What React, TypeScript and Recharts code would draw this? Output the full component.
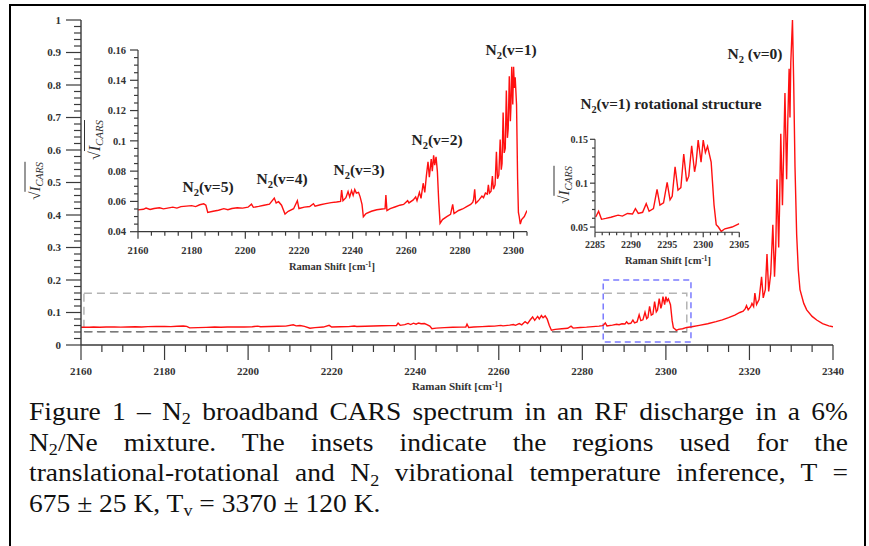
import React from "react";
import { Line, LineChart, ReferenceArea, ReferenceLine, XAxis, YAxis } from "recharts";

// spectrum, split in the three regions the figure talks about
const wideShift = [
  2160, 2162, 2163, 2164.5, 2166, 2168, 2169.5, 2171, 2173, 2174.5, 2176, 2178, 2180, 2181.5, 2183, 2184.5,
  2185.3, 2186, 2188, 2190, 2192, 2193.5, 2195, 2197, 2199, 2201, 2202.3, 2203, 2205, 2207, 2209, 2210.8,
  2211.5, 2212.4, 2213.5, 2214.8, 2216, 2218, 2219.4, 2220, 2222, 2224, 2225.4, 2226, 2228, 2230, 2232, 2234,
  2235.5, 2235.9, 2236.4, 2237.5, 2238.3, 2238.9, 2239.6, 2240.2, 2240.8, 2241.4, 2242.2, 2242.8, 2243.5, 2244,
  2245, 2247, 2249, 2251, 2252.1, 2252.4, 2252.8, 2254, 2256, 2257.6, 2259, 2260.5, 2261, 2262.6, 2263.5, 2264,
  2264.9, 2265.5, 2266.3, 2266.9, 2267.5, 2268.1, 2268.6, 2269.3, 2269.7, 2270.2, 2270.6, 2271.1, 2271.6, 2272.1,
  2272.6, 2273.5, 2275.1, 2276.5, 2277.3, 2277.8, 2279.5, 2281, 2282.5, 2284, 2284.8,
];
const wideSignal = [
  0.0544, 0.0548, 0.0556, 0.0547, 0.0553, 0.0558, 0.0551, 0.0556, 0.0562, 0.0556, 0.0566, 0.0569, 0.0572, 0.0566, 0.0578, 0.0584,
  0.0575, 0.0527, 0.0535, 0.0542, 0.0552, 0.0545, 0.0553, 0.0558, 0.0556, 0.0562, 0.0582, 0.0561, 0.0567, 0.0575, 0.0582, 0.0622,
  0.059, 0.0598, 0.0575, 0.0517, 0.0535, 0.0552, 0.0605, 0.0553, 0.0562, 0.0566, 0.0585, 0.0568, 0.0578, 0.0585, 0.0592, 0.0596,
  0.06, 0.0675, 0.0605, 0.0625, 0.0665, 0.063, 0.0672, 0.064, 0.0678, 0.0655, 0.066, 0.063, 0.058, 0.0499,
  0.052, 0.0535, 0.0545, 0.055, 0.0552, 0.0642, 0.054, 0.0553, 0.0565, 0.0575, 0.058, 0.0605, 0.059, 0.061, 0.063, 0.0605,
  0.066, 0.062, 0.072, 0.066, 0.077, 0.0862, 0.076, 0.088, 0.08, 0.0905, 0.084, 0.0895, 0.0795, 0.06,
  0.0455, 0.048, 0.05, 0.0515, 0.058, 0.052, 0.054, 0.055, 0.0565, 0.058, 0.0595,
];

const rotShift = [
  2285.1, 2285.5, 2285.9, 2286.5, 2287.2, 2288.2, 2288.8, 2289.5, 2290.2, 2290.6, 2291, 2291.6, 2292.1, 2292.5,
  2293.1, 2293.6, 2294, 2294.5, 2295, 2295.4, 2295.7, 2296.1, 2296.5, 2296.9, 2297.3, 2297.7, 2298, 2298.4,
  2298.8, 2299, 2299.3, 2299.7, 2300, 2300.3, 2300.6, 2301.1, 2301.5, 2301.8, 2302.1, 2302.5, 2303, 2304, 2305,
];
const rotSignal = [
  0.0614, 0.068, 0.0588, 0.0598, 0.0612, 0.0636, 0.0625, 0.0655, 0.0648, 0.071, 0.0655, 0.0668, 0.0767, 0.068,
  0.071, 0.0928, 0.075, 0.0775, 0.1008, 0.081, 0.085, 0.1187, 0.092, 0.095, 0.1332, 0.102, 0.108, 0.1427,
  0.113, 0.122, 0.149, 0.124, 0.149, 0.135, 0.142, 0.124, 0.075, 0.0527, 0.05, 0.045, 0.048, 0.05, 0.054,
];

const peakShift = [
  2306.2, 2308, 2310, 2312, 2313.5, 2315, 2316.5, 2317.7, 2318.5, 2319, 2319.3, 2319.7, 2320.3, 2320.6, 2321,
  2321.3, 2321.7, 2322.3, 2322.9, 2323.3, 2323.8, 2324.2, 2324.6, 2325.1, 2325.6, 2326, 2326.3, 2326.6, 2327,
  2327.2, 2327.5, 2327.9, 2328.2, 2328.5, 2328.9, 2329.2, 2329.5, 2329.7, 2329.9, 2330.3, 2330.6, 2330.9,
  2331.3, 2331.7, 2332.1, 2333, 2333.7, 2335, 2336.1, 2337.5, 2339, 2340,
];
const peakSignal = [
  0.056, 0.0605, 0.0655, 0.072, 0.0775, 0.0845, 0.092, 0.1, 0.104, 0.112, 0.121, 0.108, 0.118, 0.128, 0.118,
  0.16, 0.125, 0.14, 0.21, 0.145, 0.17, 0.28, 0.165, 0.22, 0.37, 0.21, 0.3, 0.51, 0.3,
  0.42, 0.65, 0.43, 0.6, 0.775, 0.51, 0.7, 0.85, 0.7, 0.87, 1.0, 0.8, 0.55,
  0.34, 0.23, 0.17, 0.128, 0.108, 0.088, 0.077, 0.066, 0.059, 0.056,
];

const mainXLabels = [2160, 2180, 2200, 2220, 2240, 2260, 2280, 2300, 2320, 2340];
const mainYLabels = [0, 0.1, 0.2, 0.3, 0.4, 0.5, 0.6, 0.7, 0.8, 0.9, 1];
const zoomXLabels = [2160, 2180, 2200, 2220, 2240, 2260, 2280, 2300];
const zoomYLabels = [0.04, 0.06, 0.08, 0.1, 0.12, 0.14, 0.16];
const rotXLabels = [2285, 2290, 2295, 2300, 2305];
const rotYLabels = [0.05, 0.1, 0.15];

const rows = (xs: number[], ys: number[]) => xs.map((x, i) => ({ x, y: ys[i] }));
const wideRows = rows(wideShift, wideSignal);
const rotRows = rows(rotShift, rotSignal);
const peakRows = rows(peakShift, peakSignal);
const mainData = [...wideRows, ...rotRows, ...peakRows];
const zoomData = [...wideRows, ...rotRows];

// minor tick positions, not data
const steps = (from: number, to: number, step: number) => {
  const out: number[] = [];
  const n = Math.round((to - from) / step);
  for (let i = 0; i <= n; i++) out.push(Math.round((from + i * step) * 1e6) / 1e6);
  return out;
};

const W = 869;
const H = 546;
const SERIF = "'Liberation Serif', 'Times New Roman', serif";
const RED = "#ff1010";
const AXIS = "#3a3a3a";

type TickCfg = {
  side: "left" | "bottom";
  labels: number[];
  major: number;
  minor: number;
  offset: number;
  fontSize: number;
};

const makeTick = (cfg: TickCfg) => (props: any) => {
  const { x, y, payload } = props;
  const v = payload.value as number;
  const isMajor = cfg.labels.some((m) => Math.abs(m - v) < 1e-7);
  const len = isMajor ? cfg.major : cfg.minor;
  const txt = String(+v.toFixed(3));
  const textStyle = { fontFamily: SERIF, fontWeight: 700, fontSize: cfg.fontSize };
  if (cfg.side === "bottom") {
    return (
      <g>
        <line x1={x} y1={y} x2={x} y2={y + len} stroke={AXIS} strokeWidth={1.2} />
        {isMajor && (
          <text x={x} y={y + cfg.offset} dy="0.35em" textAnchor="middle" fill="#333" style={textStyle}>
            {txt}
          </text>
        )}
      </g>
    );
  }
  return (
    <g>
      <line x1={x - len} y1={y} x2={x} y2={y} stroke={AXIS} strokeWidth={1.2} />
      {isMajor && (
        <text x={x - cfg.offset} y={y} dy="0.35em" textAnchor="end" fill="#333" style={textStyle}>
          {txt}
        </text>
      )}
    </g>
  );
};

// plot boxes in page pixels
type Box = { left: number; right: number; top: number; bottom: number };
const marginFor = (b: Box) => ({ left: b.left - 40, right: W - b.right, top: b.top, bottom: H - b.bottom - 30 });

const mainBox: Box = { left: 81, right: 833, top: 20, bottom: 345 };
const zoomBox: Box = { left: 138, right: 527, top: 50, bottom: 231.7 };
const rotBox: Box = { left: 595, right: 739.3, top: 139.3, bottom: 232.3 };

const layer: React.CSSProperties = { position: "absolute", left: 0, top: 0 };

function Tag({ cx, cy, sub, head = "N", children, size = 15.5 }: any) {
  return (
    <div
      style={{
        position: "absolute",
        left: cx,
        top: cy,
        transform: "translate(-50%, -50%)",
        fontFamily: SERIF,
        fontWeight: 700,
        fontSize: size,
        lineHeight: 1,
        whiteSpace: "nowrap",
        color: "#222",
      }}
    >
      {head}
      <span style={{ fontSize: "0.68em", position: "relative", top: "0.35em" }}>{sub}</span>
      {children}
    </div>
  );
}

function AxisTitle({ cx, cy, size = 11 }: any) {
  return (
    <div
      style={{
        position: "absolute",
        left: cx,
        top: cy,
        transform: "translate(-50%, -50%)",
        fontFamily: SERIF,
        fontWeight: 700,
        fontSize: size,
        lineHeight: 1,
        whiteSpace: "nowrap",
        color: "#333",
      }}
    >
      Raman Shift [cm<span style={{ fontSize: "0.7em", position: "relative", top: "-0.45em" }}>-1</span>]
    </div>
  );
}

function SqrtLabel({ cx, cy, size = 14 }: any) {
  return (
    <div
      style={{
        position: "absolute",
        left: cx,
        top: cy,
        transform: "translate(-50%, -50%) rotate(-90deg)",
        fontFamily: SERIF,
        fontSize: size,
        lineHeight: 1,
        whiteSpace: "nowrap",
        color: "#333",
      }}
    >
      √
      <span style={{ borderTop: "1px solid #333", paddingTop: 1, fontStyle: "italic" }}>
        I<span style={{ fontSize: "0.68em", position: "relative", top: "0.3em" }}>CARS</span>
      </span>
    </div>
  );
}

const captionLine: React.CSSProperties = {
  textAlign: "justify",
  textAlignLast: "justify",
  height: 30.7,
  whiteSpace: "nowrap",
};
const sub = (t: string) => (
  <span style={{ fontSize: "0.66em", position: "relative", top: "0.25em" }}>{t}</span>
);

export default function App() {
  return (
    <div style={{ position: "fixed", left: 0, top: 0, width: W, height: H, overflow: "hidden", background: "#fff" }}>
      <div
        style={{
          position: "absolute",
          left: 9,
          top: 4,
          width: 853,
          height: 600,
          border: "2px solid #000",
          borderBottom: "none",
        }}
      />

      {/* full spectrum */}
      <div style={layer}>
        <LineChart width={W} height={H} data={mainData} margin={marginFor(mainBox)}>
          <XAxis
            dataKey="x"
            type="number"
            domain={[2160, 2340]}
            allowDataOverflow
            ticks={steps(2160, 2340, 5)}
            interval={0}
            height={30}
            tickSize={0}
            tickMargin={0}
            axisLine={{ stroke: AXIS, strokeWidth: 1.4 }}
            tick={makeTick({ side: "bottom", labels: mainXLabels, major: 15, minor: 7, offset: 26, fontSize: 11 })}
          />
          <YAxis
            type="number"
            domain={[0, 1]}
            allowDataOverflow
            ticks={steps(0, 1, 0.02)}
            interval={0}
            width={40}
            tickSize={0}
            tickMargin={0}
            axisLine={{ stroke: AXIS, strokeWidth: 1.4 }}
            tick={makeTick({ side: "left", labels: mainYLabels, major: 15, minor: 7, offset: 20, fontSize: 11 })}
          />
          <ReferenceArea
            x1={2160.7}
            x2={2305}
            y1={0.041}
            y2={0.159}
            fill="none"
            stroke="#b4b4b4"
            strokeWidth={1.5}
            strokeDasharray="8 5"
          />
          <ReferenceLine
            segment={[
              { x: 2160.7, y: 0.041 },
              { x: 2305, y: 0.041 },
            ]}
            stroke="#7a7a7a"
            strokeWidth={1.5}
            strokeDasharray="8 5"
          />
          <ReferenceArea
            x1={2285}
            x2={2306}
            y1={0.009}
            y2={0.2}
            fill="none"
            stroke="#7b7bff"
            strokeWidth={1.5}
            strokeDasharray="6 4"
          />
          <Line type="linear" dataKey="y" stroke={RED} strokeWidth={1.4} dot={false} isAnimationActive={false} />
        </LineChart>
      </div>

      {/* 2160-2305 inset */}
      <div style={layer}>
        <LineChart width={W} height={H} data={zoomData} margin={marginFor(zoomBox)}>
          <XAxis
            dataKey="x"
            type="number"
            domain={[2160, 2305]}
            allowDataOverflow
            ticks={steps(2160, 2305, 5)}
            interval={0}
            height={30}
            tickSize={0}
            tickMargin={0}
            axisLine={{ stroke: AXIS, strokeWidth: 1.2 }}
            tick={makeTick({ side: "bottom", labels: zoomXLabels, major: 7, minor: 4, offset: 19, fontSize: 10.5 })}
          />
          <YAxis
            type="number"
            domain={[0.04, 0.16]}
            allowDataOverflow
            ticks={steps(0.04, 0.16, 0.005)}
            interval={0}
            width={40}
            tickSize={0}
            tickMargin={0}
            axisLine={{ stroke: AXIS, strokeWidth: 1.2 }}
            tick={makeTick({ side: "left", labels: zoomYLabels, major: 8, minor: 4, offset: 12, fontSize: 10.5 })}
          />
          <Line type="linear" dataKey="y" stroke={RED} strokeWidth={1.4} dot={false} isAnimationActive={false} />
        </LineChart>
      </div>

      {/* v=1 rotational inset */}
      <div style={layer}>
        <LineChart width={W} height={H} data={rotRows} margin={marginFor(rotBox)}>
          <XAxis
            dataKey="x"
            type="number"
            domain={[2285, 2305]}
            allowDataOverflow
            ticks={steps(2285, 2305, 1)}
            interval={0}
            height={30}
            tickSize={0}
            tickMargin={0}
            axisLine={{ stroke: AXIS, strokeWidth: 1.1 }}
            tick={makeTick({ side: "bottom", labels: rotXLabels, major: 5, minor: 3, offset: 12, fontSize: 10 })}
          />
          <YAxis
            type="number"
            domain={[0.044, 0.15]}
            allowDataOverflow
            ticks={steps(0.05, 0.15, 0.01)}
            interval={0}
            width={40}
            tickSize={0}
            tickMargin={0}
            axisLine={{ stroke: AXIS, strokeWidth: 1.1 }}
            tick={makeTick({ side: "left", labels: rotYLabels, major: 5, minor: 3, offset: 7, fontSize: 10 })}
          />
          <Line type="linear" dataKey="y" stroke={RED} strokeWidth={1.4} dot={false} isAnimationActive={false} />
        </LineChart>
      </div>

      <SqrtLabel cx={35} cy={181} size={15} />
      <SqrtLabel cx={95} cy={140} size={16} />
      <SqrtLabel cx={564} cy={185} size={15} />

      <AxisTitle cx={457} cy={386} />
      <AxisTitle cx={332} cy={267} size={10.5} />
      <AxisTitle cx={668} cy={261} size={10.5} />

      <Tag cx={208} cy={187} sub="2">(v=5)</Tag>
      <Tag cx={282} cy={179} sub="2">(v=4)</Tag>
      <Tag cx={359} cy={170} sub="2">(v=3)</Tag>
      <Tag cx={437} cy={140} sub="2">(v=2)</Tag>
      <Tag cx={511} cy={50} sub="2">(v=1)</Tag>
      <Tag cx={755} cy={54} sub="2">{" (v=0)"}</Tag>
      <Tag cx={671} cy={104} sub="2" size={15.2}>(v=1) rotational structure</Tag>

      <div
        style={{
          position: "absolute",
          left: 29,
          top: 397,
          width: 744.5,
          transform: "scaleX(1.1)",
          transformOrigin: "0 0",
          fontFamily: SERIF,
          fontSize: 25,
          lineHeight: "30.7px",
          color: "#111",
        }}
      >
        <div style={captionLine}>Figure 1 – N{sub("2")} broadband CARS spectrum in an RF discharge in a 6%</div>
        <div style={captionLine}>N{sub("2")}/Ne mixture. The insets indicate the regions used for the</div>
        <div style={captionLine}>translational-rotational and N{sub("2")} vibrational temperature inference, T =</div>
        <div style={{ height: 30.7, whiteSpace: "nowrap" }}>
          675 ± 25 K, T{sub("v")} = 3370 ± 120 K.
        </div>
      </div>
    </div>
  );
}
